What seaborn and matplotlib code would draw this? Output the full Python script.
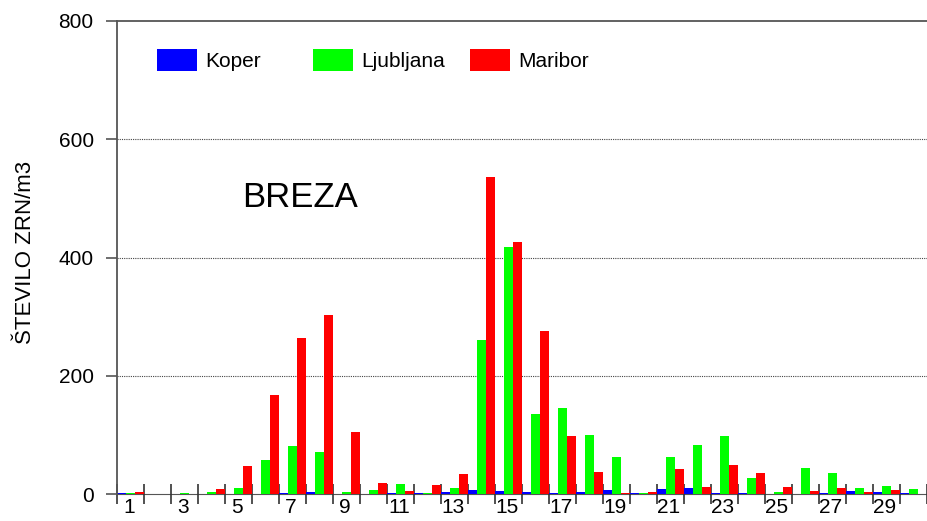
import matplotlib
matplotlib.use("Agg")
import matplotlib.pyplot as plt
import matplotlib.transforms as mtransforms
from matplotlib.legend import Legend
import seaborn as sns
import pandas as pd

# Daily birch pollen counts (grains per m3) for three stations
days = list(range(1, 31))
koper = [2, 1, 1, 1, 1, 1, 2, 4, 1, 1, 2, 2, 3.5, 7.5, 6,
         3, 1.5, 4.5, 8, 2, 9, 10, 1.5, 1.5, 1, 1, 2.5, 6, 3, 1.5]
ljubljana = [1.5, 1, 2, 4.5, 10, 58, 82, 72, 4, 8, 17, 2, 11, 261, 418,
             135, 145, 100, 63, 2, 63, 84, 98, 28, 4.5, 44, 36, 11, 14, 9]
maribor = [3, 0.5, 1, 9.5, 47, 168, 264, 303, 106, 19, 5, 15, 35, 537, 427,
           276, 99, 37, 2, 3.5, 42, 13, 49, 36, 13, 5, 11, 3, 7, 1]

stations = ["Koper", "Ljubljana", "Maribor"]
colors = ["#0000FF", "#00FF00", "#FF0000"]
y_ticks = [0, 200, 400, 600, 800]

df = pd.DataFrame({
    "dan": [str(d) for d in days] * 3,
    "postaja": sum([[s] * len(days) for s in stations], []),
    "vrednost": koper + ljubljana + maribor,
})

sns.set_style("white")
plt.rcParams["font.family"] = ["Liberation Sans", "DejaVu Sans"]
plt.rcParams["text.color"] = "black"
plt.rcParams["xtick.color"] = "black"
plt.rcParams["ytick.color"] = "black"
plt.rcParams["axes.labelcolor"] = "black"

fig = plt.figure(figsize=(9.28, 5.21), dpi=100)
ax = fig.add_axes([117.3 / 928, (521 - 494.25) / 521, 810 / 928, 473.25 / 521])

sns.barplot(data=df, x="dan", y="vrednost", hue="postaja",
            order=[str(d) for d in days], hue_order=stations,
            palette=colors, saturation=1, width=1.0, errorbar=None,
            linewidth=0, legend=False, ax=ax)

ax.set_xlim(-0.5, len(days) - 0.5)
ax.set_ylim(0, 800)
ax.set_yticks(y_ticks)
ax.set_yticklabels([str(v) for v in y_ticks])

# category labels on odd days, tick marks between categories
ax.set_xticks(range(0, len(days), 2))
ax.set_xticklabels([str(d) for d in days[::2]])
ax.set_xticks([i - 0.5 for i in range(len(days) + 1)], minor=True)
ax.tick_params(axis="x", which="major", length=0, pad=3, labelsize=15)
ax.tick_params(axis="x", which="minor", length=15, width=1.2,
               direction="inout", color="#333333", bottom=True)
ax.tick_params(axis="y", length=8, width=1.2, color="#555555",
               left=True, pad=9, labelsize=15)
shift = mtransforms.ScaledTranslation(-2 / 100, 0, fig.dpi_scale_trans)
for lbl in ax.get_xticklabels():
    lbl.set_transform(lbl.get_transform() + shift)

ax.set_xlabel("")
ax.set_ylabel("ŠTEVILO ZRN/m3", fontsize=16)
ax.yaxis.set_label_coords(-0.1, 0.51)

# dotted gridlines
for v in y_ticks[1:-1]:
    ax.axhline(v, color="#444444", linestyle=(0, (1, 1)), linewidth=0.8, zorder=0)

for side in ["left", "top"]:
    ax.spines[side].set_color("#555555")
    ax.spines[side].set_linewidth(1.3)
ax.spines["right"].set_visible(False)
ax.spines["bottom"].set_color("#555555")
ax.spines["bottom"].set_zorder(0.5)

ax.text(0.1536, 0.606, "BREZA", transform=ax.transAxes, fontsize=25,
        ha="left", va="baseline")

# one legend entry per station, evenly spaced along the top
legend_x = [0.049, 0.2419, 0.4354]
for cont, name, lx in zip(ax.containers, stations, legend_x):
    leg = Legend(ax, [cont], [name], loc="center left",
                 bbox_to_anchor=(lx, 0.9166), frameon=False,
                 fontsize=15, handlelength=1.92, handleheight=1.25,
                 handletextpad=0.4, borderpad=0, borderaxespad=0)
    ax.add_artist(leg)

fig.savefig("out.png", dpi=100)
